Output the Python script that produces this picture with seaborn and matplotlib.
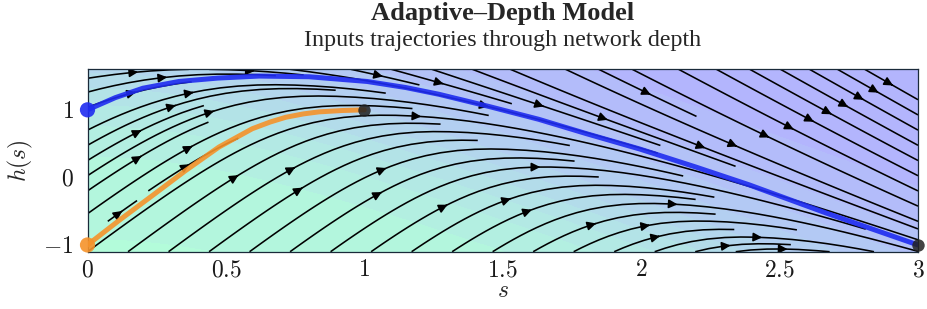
import numpy as np
import pandas as pd
import matplotlib
matplotlib.use("Agg")
import matplotlib.pyplot as plt
from matplotlib.colors import ListedColormap
import seaborn as sns

# ---------------- data ----------------
title = "Adaptive–Depth Model"
subtitle = "Inputs trajectories through network depth"
x_label = "$s$"
y_label = "$h(s)$"
s_ticks = [0, 0.5, 1, 1.5, 2, 2.5, 3]
h_ticks = [-1, 0, 1]
s_range = [0, 3]
h_range = [-1.1, 1.6]

# trajectories
blue_s = [0.00, 0.10, 0.20, 0.33, 0.47, 0.62, 0.80, 1.01, 1.15, 1.27, 1.45, 1.63, 1.80, 1.995, 2.20, 2.39, 2.67, 3.00]
blue_h = [1.00, 1.18, 1.32, 1.42, 1.47, 1.50, 1.49, 1.42, 1.33, 1.23, 1.05, 0.86, 0.65, 0.42, 0.15, -0.11, -0.53, -1.00]
orange_s = [0.00, 0.113, 0.234, 0.354, 0.475, 0.595, 0.66, 0.716, 0.78, 0.836, 0.92, 1.00]
orange_h = [-1.00, -0.64, -0.27, 0.10, 0.45, 0.72, 0.82, 0.89, 0.94, 0.97, 0.99, 1.00]

input_s = [0, 0]
input_h = [1, -1]
input_colors = ["#1f2cf0", "#f5922a"]
target_s = [1, 3]
target_h = [1, -1]

# vector field parameters (depth-varying field dh/ds)
null_h0, null_slope, null_w = 1.75, 1.55, 0.8
gain_pos, gain_neg, width_pos, width_neg = 3.1, 2.4, 1.3, 1.4


def field(s, h):
    h_null = null_h0 - null_slope * (np.sqrt(s ** 2 + null_w ** 2) - null_w)
    d = h_null - h
    return np.where(d > 0, gain_pos * np.tanh(d / width_pos), gain_neg * np.tanh(d / width_neg))


# ---------------- style ----------------
sns.set_theme(style="white")
plt.rcParams.update({
    "font.family": ["Liberation Serif", "DejaVu Serif"],
    "mathtext.fontset": "cm",
    "axes.edgecolor": "#1a2a3a",
    "axes.linewidth": 0.9,
    "xtick.direction": "in",
    "ytick.direction": "in",
    "xtick.major.size": 4,
    "ytick.major.size": 4,
    "xtick.color": "#203040",
    "ytick.color": "#203040",
})

# winter colormap washed over white (opaque, so no seams between bands)
base = plt.get_cmap("winter")(np.linspace(0, 1, 256))
wash = 0.7 * np.ones_like(base) + 0.3 * base
wash[:, 3] = 1.0
wash_cmap = ListedColormap(wash)

fig = plt.figure(figsize=(9.27, 3.09), dpi=100)
ax = fig.add_axes([0.0944, 0.1854, 0.9903 - 0.0944, 0.7757 - 0.1854])

S, H = np.meshgrid(np.linspace(s_range[0], s_range[1], 240), np.linspace(h_range[0], h_range[1], 240))
V = field(S, H)
ax.contourf(S, H, V, levels=12, cmap=wash_cmap, zorder=0)
ax.streamplot(S, H, np.ones_like(V), V, color="black", linewidth=1.15, density=(1.4, 0.85),
              arrowsize=1.3, arrowstyle="-|>", zorder=1)

traj = pd.DataFrame({
    "s": blue_s + orange_s,
    "h": blue_h + orange_h,
    "input": ["blue"] * len(blue_s) + ["orange"] * len(orange_s),
})
sns.lineplot(data=traj, x="s", y="h", hue="input", palette=input_colors, linewidth=3.6,
             alpha=0.9, estimator=None, sort=False, legend=False, ax=ax, zorder=3)
sns.scatterplot(x=input_s, y=input_h, hue=["blue", "orange"], palette=input_colors, s=120,
                linewidth=0, alpha=0.9, legend=False, ax=ax, zorder=4, clip_on=False)
sns.scatterplot(x=target_s, y=target_h, color="#222222", s=80, linewidth=0, alpha=0.85,
                legend=False, ax=ax, zorder=5, clip_on=False)

ax.set_xlim(s_range)
ax.set_ylim(h_range)
ax.set_xticks(s_ticks)
ax.set_yticks(h_ticks)
ax.set_xticklabels([f"${t:g}$" for t in s_ticks], fontsize=17, color="k")
ax.set_yticklabels([f"${t:g}$" for t in h_ticks], fontsize=17, color="k")
ax.tick_params(axis="x", pad=6)
ax.tick_params(axis="y", pad=10)
ax.set_xlabel(x_label, fontsize=17, labelpad=0)
ax.set_ylabel(y_label, fontsize=17, labelpad=6)

fig.text(0.5425, 0.935, title, ha="center", va="baseline", fontsize=19, fontweight="bold")
fig.text(0.5425, 0.852, subtitle, ha="center", va="baseline", fontsize=17.3)

fig.savefig("out.png", dpi=100)
